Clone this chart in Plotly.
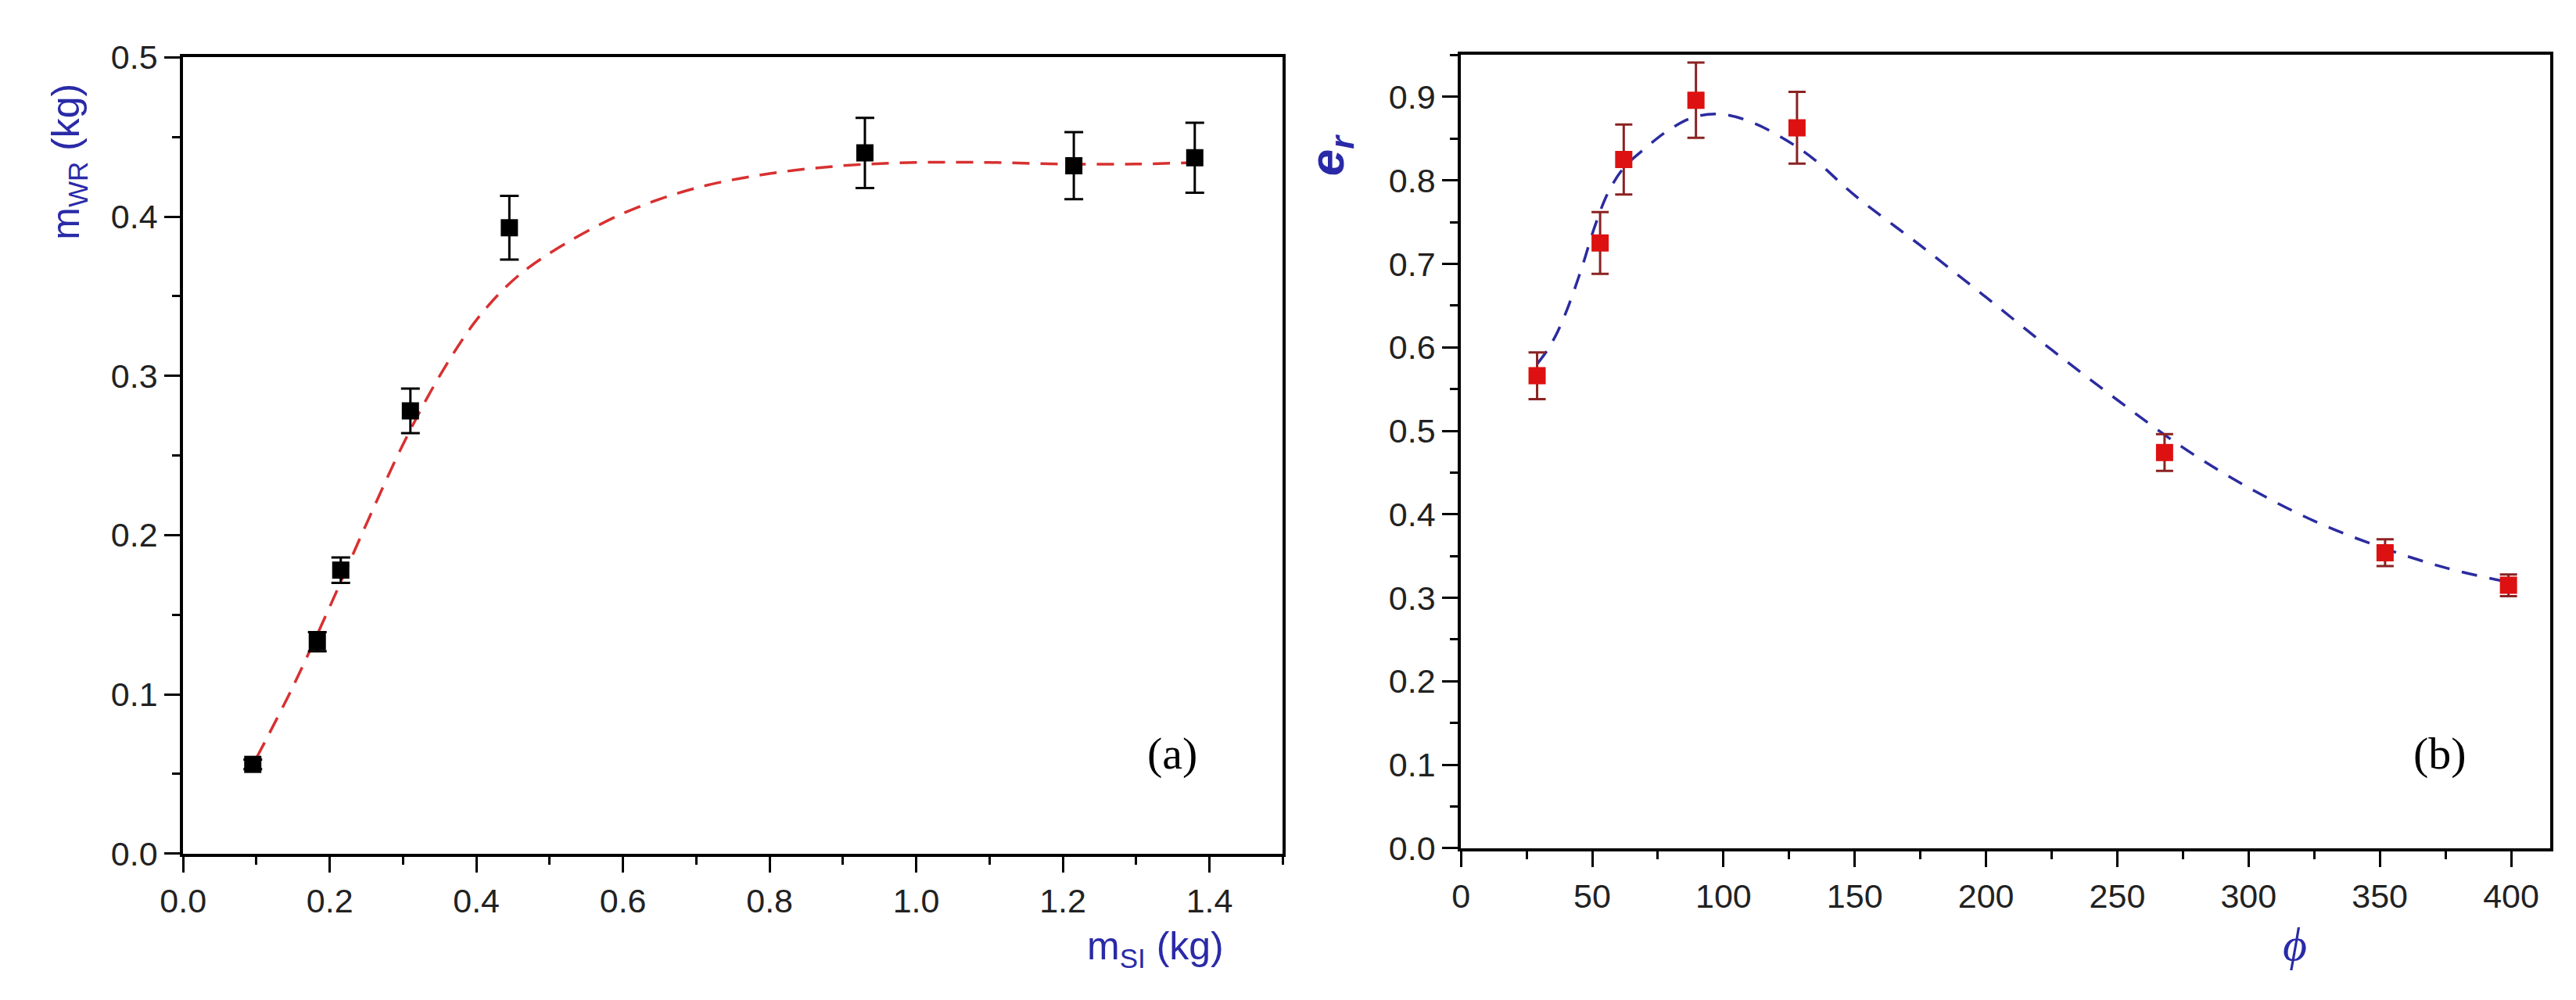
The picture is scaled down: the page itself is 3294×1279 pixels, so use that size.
import plotly.graph_objects as go

# ---------------- data: panel (a) ----------------
a_x = [0.095, 0.183, 0.215, 0.31, 0.445, 0.93, 1.215, 1.38]
a_y = [0.056, 0.133, 0.178, 0.278, 0.393, 0.440, 0.432, 0.437]
a_err = [0.003, 0.006, 0.008, 0.014, 0.020, 0.022, 0.021, 0.022]
a_fit_x = [0.10, 0.15, 0.20, 0.25, 0.30, 0.35, 0.40, 0.45, 0.50, 0.60, 0.70,
           0.80, 0.90, 1.00, 1.10, 1.20, 1.30, 1.38]
a_fit_y = [0.060, 0.105, 0.155, 0.207, 0.257, 0.300, 0.335, 0.360, 0.377,
           0.402, 0.418, 0.427, 0.432, 0.434, 0.434, 0.433, 0.433, 0.434]

# ---------------- data: panel (b) ----------------
b_x = [29, 53, 62, 89.5, 128, 268, 352, 399]
b_y = [0.566, 0.725, 0.825, 0.896, 0.863, 0.474, 0.354, 0.315]
b_err = [0.028, 0.037, 0.042, 0.045, 0.043, 0.022, 0.016, 0.013]
b_fit_x = [29, 33, 37, 41, 46, 51, 56, 62, 70, 79, 89, 100, 112, 125, 135,
           150, 175, 200, 225, 250, 275, 300, 325, 350, 375, 400]
b_fit_y = [0.580, 0.597, 0.620, 0.650, 0.695, 0.745, 0.785, 0.815, 0.838,
           0.860, 0.876, 0.879, 0.868, 0.846, 0.824, 0.782, 0.722, 0.660,
           0.597, 0.537, 0.480, 0.432, 0.392, 0.361, 0.336, 0.318]

W, H = 3294, 1279
TICKFONT = dict(family="Liberation Sans, Arial, sans-serif", size=43, color="#222222")
BLUE = "#2a2aa8"

fig = go.Figure()

fig.add_trace(go.Scatter(
    x=a_fit_x, y=a_fit_y, mode="lines", line_shape="spline",
    line=dict(color="#d83030", width=3.5, dash="22px,14px"),
    xaxis="x", yaxis="y", hoverinfo="skip"))
fig.add_trace(go.Scatter(
    x=a_x, y=a_y, mode="markers",
    marker=dict(symbol="square", size=22, color="black"),
    error_y=dict(type="data", array=a_err, color="black", thickness=3, width=12),
    xaxis="x", yaxis="y"))

fig.add_trace(go.Scatter(
    x=b_fit_x, y=b_fit_y, mode="lines", line_shape="spline",
    line=dict(color="#2b2ba0", width=3.5, dash="20px,16px"),
    xaxis="x2", yaxis="y2", hoverinfo="skip"))
fig.add_trace(go.Scatter(
    x=b_x, y=b_y, mode="markers",
    marker=dict(symbol="square", size=22, color="#dd1111"),
    error_y=dict(type="data", array=b_err, color="#8b2222", thickness=3, width=11),
    xaxis="x2", yaxis="y2"))


def ax(rng, dtick, minor, domain, anchor, fmt):
    return dict(
        range=rng, dtick=dtick, tick0=0, tickformat=fmt, domain=domain, anchor=anchor,
        showline=True, linecolor="black", linewidth=4, mirror=True,
        ticks="outside", ticklen=20, tickwidth=3, tickcolor="black",
        minor=dict(ticks="outside", ticklen=10, tickwidth=3, tickcolor="black", dtick=minor),
        showgrid=False, zeroline=False, tickfont=TICKFONT)


ax_dom = [198 / W, 1617 / W]
ay_dom = [1 - 1101 / H, 1 - 43 / H]
bx_dom = [1847 / W, 3253 / W]
by_dom = [1 - 1094 / H, 1 - 40 / H]

fig.update_layout(
    width=W, height=H,
    margin=dict(l=0, r=0, t=0, b=0),
    paper_bgcolor="white", plot_bgcolor="white",
    showlegend=False,
    xaxis=ax([0, 1.5], 0.2, 0.1, ax_dom, "y", ".1f"),
    yaxis=ax([0, 0.5], 0.1, 0.05, ay_dom, "x", ".1f"),
    xaxis2=ax([0, 415], 50, 25, bx_dom, "y2", "d"),
    yaxis2=ax([0, 0.95], 0.1, 0.05, by_dom, "x2", ".1f"),
)

annots = [
    dict(text="m<sub>WR</sub> (kg)", x=50 / W, y=1 - 182 / H, textangle=-90,
         font=dict(family="Liberation Sans, Arial", size=50, color=BLUE)),
    dict(text="m<sub>SI</sub> (kg)", x=1453 / W, y=1 - 1228 / H,
         font=dict(family="Liberation Sans, Arial", size=50, color=BLUE)),
    dict(text="<b><i>e<sub>r</sub></i></b>", x=1678 / W, y=1 - 173 / H, textangle=-90,
         font=dict(family="Liberation Sans, Arial", size=62, color=BLUE)),
    dict(text="<i>ϕ</i>", x=2923 / W, y=1 - 1222 / H,
         font=dict(family="Liberation Serif, Times New Roman, serif", size=60, color=BLUE)),
    dict(text="(a)", x=1474 / W, y=1 - 968 / H,
         font=dict(family="Liberation Serif, Times New Roman, serif", size=58, color="black")),
    dict(text="(b)", x=3110 / W, y=1 - 968 / H,
         font=dict(family="Liberation Serif, Times New Roman, serif", size=58, color="black")),
]
for a in annots:
    fig.add_annotation(xref="paper", yref="paper", showarrow=False,
                       xanchor="center", yanchor="middle", **a)

fig.write_html("out.html")
